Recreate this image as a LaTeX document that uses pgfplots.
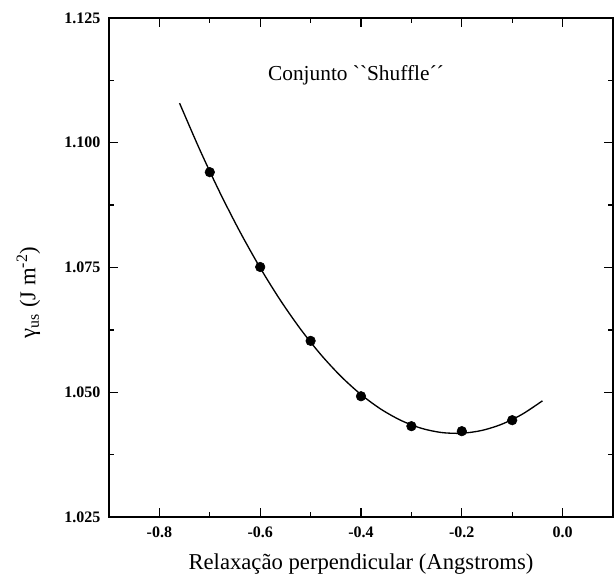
\documentclass[border=0pt]{standalone}
\usepackage{pgfplots}
\pgfplotsset{compat=1.18}
\usepackage{fontspec}
\setmainfont{Liberation Serif}
\newfontfamily\plainquotes{Liberation Serif}[Ligatures=ResetAll]

\begin{document}
\begin{tikzpicture}
% fixed frame: 1px = 0.75pt
\path[use as bounding box] (-81.75pt,-45.75pt) rectangle (378.75pt,387.75pt);
\begin{axis}[
  at={(0,0)}, anchor=south west,
  scale only axis,
  width=378pt, height=374.25pt,
  xmin=-0.9, xmax=0.1,
  ymin=1.025, ymax=1.125,
  xtick={-0.8,-0.6,-0.4,-0.2,0.0},
  ytick={1.025,1.050,1.075,1.100,1.125},
  minor x tick num=1,
  minor y tick num=1,
  tick align=inside,
  major tick length=7pt,
  minor tick length=4pt,
  every tick/.style={black, line width=1pt},
  axis line style={line width=1pt},
  xticklabel style={yshift=-4pt, /pgf/number format/.cd, fixed, fixed zerofill, precision=1, assume math mode=true},
  yticklabel style={xshift=-3pt, /pgf/number format/.cd, fixed, fixed zerofill, precision=3, assume math mode=true},
  tick label style={font=\bfseries\fontsize{12}{14}\selectfont},
  xlabel={Relaxação perpendicular (Angstroms)},
  ylabel={γ\textsubscript{us} (J m\textsuperscript{-2})},
  label style={font=\fontsize{17}{19}\selectfont},
  xlabel style={at={(axis description cs:0.5,-0.094)}, anchor=center},
  ylabel style={at={(axis description cs:-0.16,0.45)}, anchor=center},
  clip=false,
]
% quadratic least-squares fit of the computed points
\addplot[black, line width=1pt, smooth] coordinates {
  (-0.76,1.107941) (-0.72,1.098629) (-0.68,1.090024) (-0.64,1.082124)
  (-0.60,1.074928) (-0.56,1.068439) (-0.52,1.062656) (-0.48,1.057578)
  (-0.44,1.053205) (-0.40,1.049538) (-0.36,1.046577) (-0.32,1.044320)
  (-0.28,1.042770) (-0.24,1.041925) (-0.20,1.041786) (-0.16,1.042352)
  (-0.12,1.043624) (-0.08,1.045601) (-0.04,1.048283)
};
% computed unstable stacking fault energies
\addplot[only marks, mark=*, mark size=3.6pt, black] coordinates {
  (-0.7,1.0941) (-0.6,1.0751) (-0.5,1.0603) (-0.4,1.0492)
  (-0.3,1.0432) (-0.2,1.0422) (-0.1,1.0444)
};
\node[font=\fontsize{16}{18}\plainquotes] at (axis cs:-0.41,1.1135) {Conjunto ``Shuffle´´};
\end{axis}
\end{tikzpicture}
\end{document}
